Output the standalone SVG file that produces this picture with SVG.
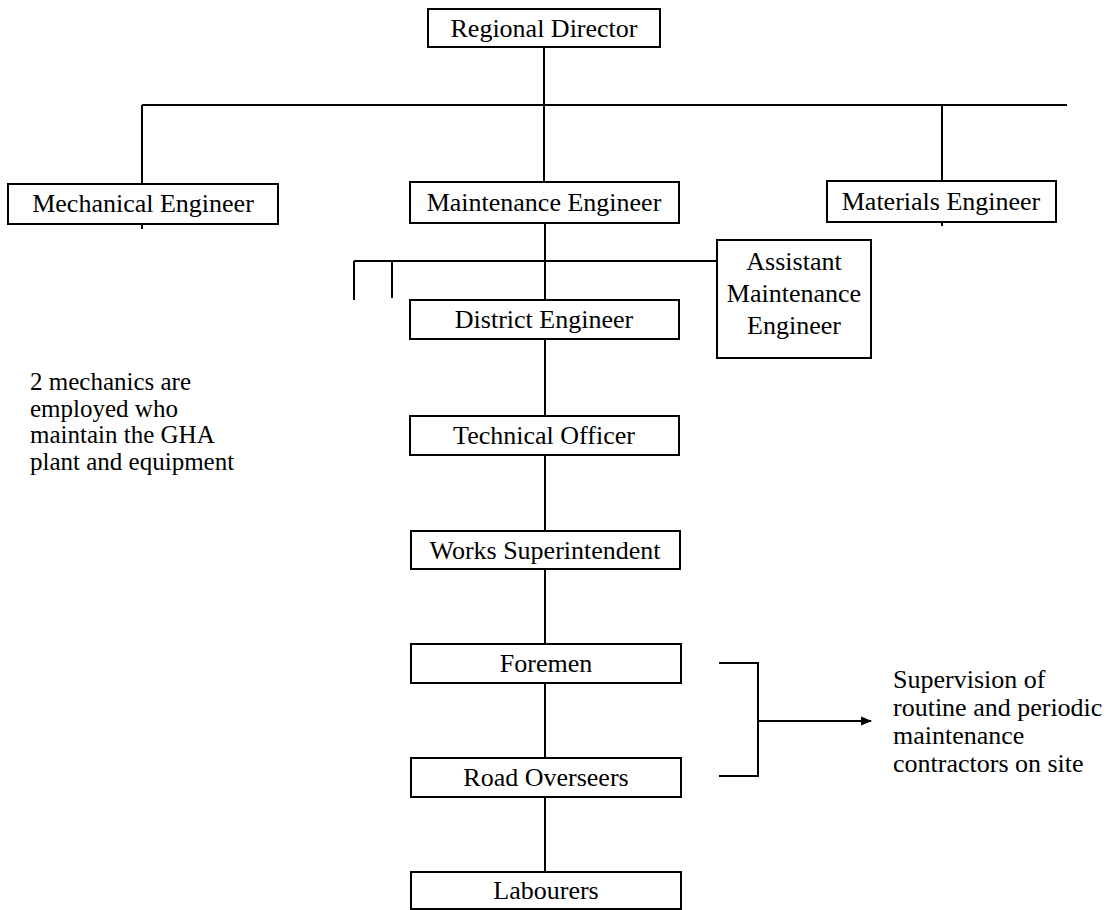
<svg xmlns="http://www.w3.org/2000/svg" width="1114" height="910" viewBox="0 0 1114 910">
<style>
.box{fill:#fff;stroke:#000;stroke-width:2}
.t{font-family:"Liberation Serif","Times New Roman",serif;font-size:26px;fill:#000}
.n{font-size:25px}
.c{text-anchor:middle}
.ln{stroke:#000;stroke-width:2;fill:none}
</style>
<defs>
<marker id="ah" markerWidth="11" markerHeight="10" refX="10" refY="5" orient="auto" markerUnits="userSpaceOnUse">
<path d="M0,0.5 L11,5 L0,9.5 z" fill="#000"/>
</marker>
</defs>
<rect width="1114" height="910" fill="#fff"/>
<g id="connectors">
<path class="ln" d="M544,47 V182"/>
<path class="ln" d="M142,105 H1067"/>
<path class="ln" d="M142,105 V229"/>
<path class="ln" d="M942,105 V226"/>
<path class="ln" d="M545,223 V300"/>
<path class="ln" d="M354,261 H717"/>
<path class="ln" d="M354,261 V300"/>
<path class="ln" d="M392,261 V298" stroke-width="1.5"/>
<path class="ln" d="M545,339 V416"/>
<path class="ln" d="M545,455 V531"/>
<path class="ln" d="M545,569 V644"/>
<path class="ln" d="M545,683 V758"/>
<path class="ln" d="M545,797 V872" stroke-width="1.5"/>
<path class="ln" d="M719,663 H758 V776 H719"/>
<path class="ln" d="M758,721 H871" marker-end="url(#ah)"/>
</g>
<g id="regional-director">
<rect class="box" x="428" y="9" width="232" height="38"/>
<text class="t c" x="544" y="37">Regional Director</text>
</g>
<g id="mechanical-engineer">
<rect class="box" x="8" y="184" width="270" height="40"/>
<text class="t c" x="143" y="212">Mechanical Engineer</text>
</g>
<g id="maintenance-engineer">
<rect class="box" x="410" y="182" width="269" height="41"/>
<text class="t c" x="544" y="211">Maintenance Engineer</text>
</g>
<g id="materials-engineer">
<rect class="box" x="827" y="181" width="229" height="41"/>
<text class="t c" x="941" y="210">Materials Engineer</text>
</g>
<g id="assistant-maintenance-engineer">
<rect class="box" x="717" y="240" width="154" height="118"/>
<text class="t c" x="794" y="270">Assistant</text>
<text class="t c" x="794" y="302">Maintenance</text>
<text class="t c" x="794" y="334">Engineer</text>
</g>
<g id="district-engineer">
<rect class="box" x="410" y="300" width="269" height="39"/>
<text class="t c" x="544" y="328">District Engineer</text>
</g>
<g id="technical-officer">
<rect class="box" x="410" y="416" width="269" height="39"/>
<text class="t c" x="544" y="444">Technical Officer</text>
</g>
<g id="works-superintendent">
<rect class="box" x="411" y="531" width="269" height="38"/>
<text class="t c" x="545" y="559">Works Superintendent</text>
</g>
<g id="foremen">
<rect class="box" x="411" y="644" width="270" height="39"/>
<text class="t c" x="546" y="672">Foremen</text>
</g>
<g id="road-overseers">
<rect class="box" x="411" y="758" width="270" height="39"/>
<text class="t c" x="546" y="786">Road Overseers</text>
</g>
<g id="labourers">
<rect class="box" x="411" y="872" width="270" height="37"/>
<text class="t c" x="546" y="899">Labourers</text>
</g>
<g id="mechanics-note">
<text class="t n" x="30" y="390">2 mechanics are</text>
<text class="t n" x="30" y="416.5">employed who</text>
<text class="t n" x="30" y="443">maintain the GHA</text>
<text class="t n" x="30" y="469.5">plant and equipment</text>
</g>
<g id="supervision-note">
<text class="t" x="893" y="688">Supervision of</text>
<text class="t" x="893" y="716">routine and periodic</text>
<text class="t" x="893" y="744">maintenance</text>
<text class="t" x="893" y="772">contractors on site</text>
</g>
</svg>
